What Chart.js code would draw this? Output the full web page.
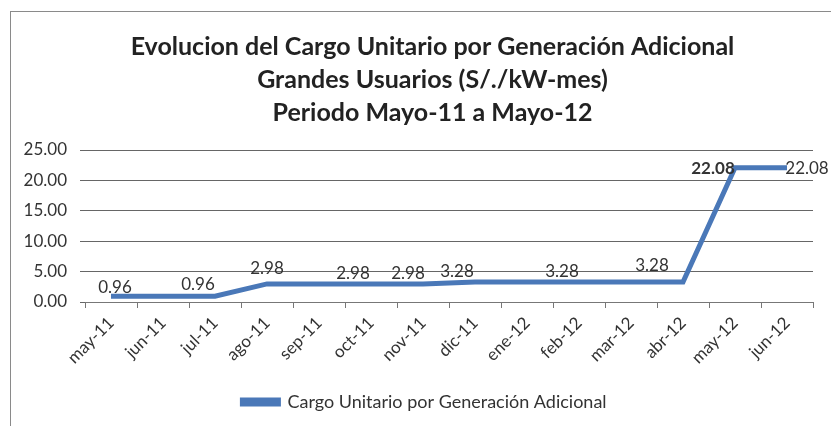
<!DOCTYPE html>
<html>
<head>
<meta charset="utf-8">
<script src="https://cdn.jsdelivr.net/npm/chart.js@4.4.1/dist/chart.umd.min.js"></script>
<style>
  html, body { margin: 0; padding: 0; background: #fff; }
  #wrap { position: relative; width: 831px; height: 426px; }
  #frame { position: absolute; left: 10px; top: 11px; width: 840px; height: 440px; border: 1px solid #8a8a8a; box-sizing: border-box; }
  canvas { position: absolute; left: 0; top: 0; }
</style>
</head>
<body>
<div id="wrap">
  <div id="frame"></div>
  <canvas id="chart" width="831" height="426"></canvas>
</div>
<script>
// datos del gráfico
const meses = ['may-11', 'jun-11', 'jul-11', 'ago-11', 'sep-11', 'oct-11', 'nov-11',
               'dic-11', 'ene-12', 'feb-12', 'mar-12', 'abr-12', 'may-12', 'jun-12'];
const cargo = [0.96, 0.96, 0.96, 2.98, 2.98, 2.98, 2.98, 3.28, 3.28, 3.28, 3.28, 3.28, 22.08, 22.08];
const yTicks = [0, 5, 10, 15, 20, 25];
const tituloLineas = ['Evolucion del Cargo Unitario por Generación Adicional',
                      'Grandes Usuarios (S/./kW-mes)',
                      'Periodo Mayo-11 a Mayo-12'];
const serieNombre = 'Cargo Unitario por Generación Adicional';
// puntos con etiqueta visible
const etiquetados = [0, 2, 3, 5, 6, 7, 9, 10, 12, 13];

const FONT = 'Lato, "Open Sans", sans-serif';

// Etiquetas de datos (estilo Excel, colocadas a mano)
const etiquetasPlugin = {
    id: 'etiquetas',
    afterDatasetsDraw(chart, args, opts) {
        const ctx = chart.ctx;
        const meta = chart.getDatasetMeta(0);
        ctx.save();
        ctx.fillStyle = '#333';
        ctx.textBaseline = 'middle';
        ctx.textAlign = 'center';
        etiquetados.forEach(i => {
            const pt = meta.data[i];
            const off = opts.offsets[i] || [0, -10];
            ctx.font = (i === 12 ? 'bold ' : '') + '17px ' + FONT;
            ctx.fillText(cargo[i].toFixed(2), pt.x + off[0], pt.y + off[1]);
        });
        ctx.restore();
    }
};

// Desplaza título y leyenda hacia la derecha (centrados como en Excel)
const centradoPlugin = {
    id: 'centrado',
    afterLayout(chart) {
        chart.titleBlock.left += 26;
        chart.titleBlock.right += 26;
        chart.legend.left += 18;
        chart.legend.right += 18;
    }
};

const ctx = document.getElementById('chart').getContext('2d');
new Chart(ctx, {
    type: 'line',
    data: {
        labels: meses,
        datasets: [{
            label: serieNombre,
            data: cargo,
            borderColor: '#4a78b8',
            backgroundColor: '#4a78b8',
            borderWidth: 5,
            pointRadius: 0,
            tension: 0
        }]
    },
    plugins: [etiquetasPlugin, centradoPlugin],
    options: {
        responsive: false,
        animation: false,
        layout: { padding: { top: 30, right: 18, bottom: 5, left: 0 } },
        plugins: {
            title: {
                display: true,
                text: tituloLineas,
                color: '#222',
                font: { family: FONT, size: 25, weight: 'bold', lineHeight: 1.32 },
                padding: { top: 0, bottom: 21 }
            },
            legend: {
                position: 'bottom',
                labels: {
                    color: '#333',
                    font: { family: FONT, size: 18 },
                    boxWidth: 36,
                    boxHeight: 4,
                    padding: 8
                }
            },
            tooltip: { enabled: false },
            etiquetas: {
                offsets: {
                    0: [4, -9], 2: [-17, -12], 3: [0, -15], 5: [-18, -10], 6: [-15, -10],
                    7: [-18, -11], 9: [-17, -11], 10: [21, -17], 12: [-22, 1], 13: [20, 1]
                }
            }
        },
        scales: {
            x: {
                offset: true,
                grid: {
                    offset: true,
                    drawOnChartArea: false,
                    drawTicks: true,
                    tickLength: 6,
                    color: '#777'
                },
                border: { display: true, color: '#777', width: 1 },
                ticks: {
                    color: '#333',
                    font: { family: FONT, size: 17 },
                    maxRotation: 45,
                    minRotation: 45,
                    autoSkip: false,
                    padding: 5
                },
                afterFit(scale) { scale.height = 83; }
            },
            y: {
                min: 0,
                max: 25,
                afterBuildTicks(scale) { scale.ticks = yTicks.map(v => ({ value: v })); },
                grid: {
                    color: '#666',
                    lineWidth: 1,
                    drawTicks: true,
                    tickLength: 5
                },
                border: { display: false },
                ticks: {
                    color: '#333',
                    font: { family: FONT, size: 17 },
                    padding: 13,
                    callback: v => Number(v).toFixed(2)
                },
                afterFit(scale) { scale.width = 85; }
            }
        }
    }
});
</script>
</body>
</html>
